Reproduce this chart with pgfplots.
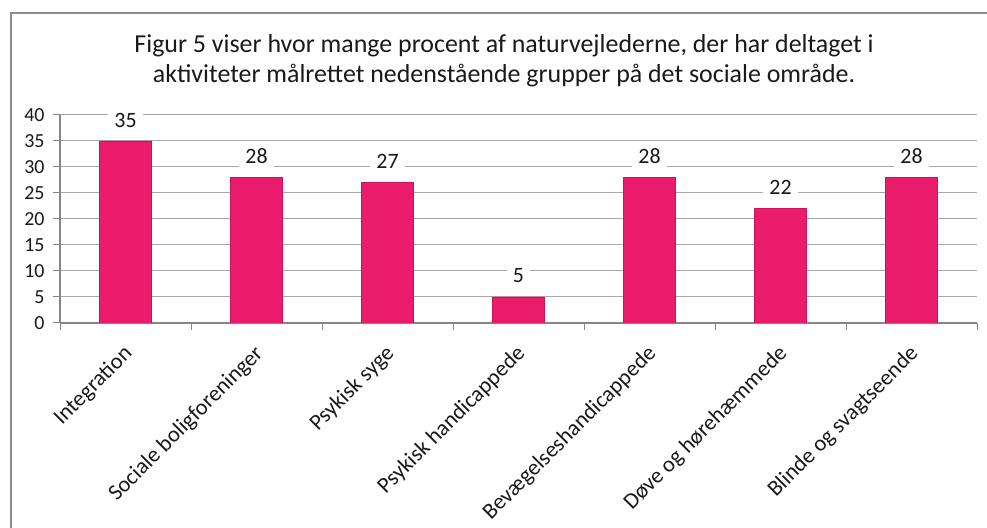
\documentclass[border=0pt]{standalone}
\usepackage{pgfplots}
\pgfplotsset{compat=1.18}
\usepackage{fontspec}
\setmainfont{Carlito}
\definecolor{barpink}{HTML}{EC1C6C}
\definecolor{baredge}{HTML}{C9145A}
\definecolor{framegray}{HTML}{8C8C8C}
\definecolor{gridgray}{HTML}{A8A8A8}
\definecolor{axisgray}{HTML}{868686}

\begin{document}
\begin{tikzpicture}[x=1bp,y=1bp]
\path[use as bounding box] (0,0) rectangle (987,528);
% outer chart frame (right and bottom edges fall outside the crop)
\draw[framegray, line width=1.5bp] (11,-20) rectangle (1010,515);
% title
\node[anchor=base, font=\fontsize{26}{30}\selectfont, text=black!90] at (504,475)
  {Figur 5 viser hvor mange procent af naturvejlederne, der har deltaget i};
\node[anchor=base, font=\fontsize{26}{30}\selectfont, text=black!90] at (504,445)
  {aktiviteter målrettet nedenstående grupper på det sociale område.};
\begin{axis}[
  at={(60bp,205bp)}, anchor=south west,
  scale only axis, width=917bp, height=208bp,
  xmin=-0.5, xmax=6.5, ymin=0, ymax=40,
  ytick={0,5,...,40},
  xtick={0,1,2,3,4,5,6},
  xticklabels={Integration, Sociale boligforeninger, Psykisk syge,
    Psykisk handicappede, Bevægelseshandicappede, Døve og hørehæmmede,
    Blinde og svagtseende},
  minor xtick={-0.5,0.5,1.5,2.5,3.5,4.5,5.5,6.5},
  major x tick style={draw=none},
  minor x tick style={draw=axisgray, line width=1bp},
  major y tick style={draw=axisgray, line width=1bp},
  tick align=outside,
  major tick length=7bp, minor tick length=7bp,
  axis x line*=bottom, axis y line*=left,
  axis line style={draw=axisgray, line width=1.2bp},
  ymajorgrids, grid style={draw=gridgray, line width=1bp},
  /pgf/number format/assume math mode=true,
  yticklabel style={font=\fontsize{20}{22}\selectfont, text=black!90, xshift=-5bp},
  xticklabel style={font=\fontsize{22.5}{26}\selectfont, text=black!90,
    rotate=45, anchor=north east, inner sep=0pt, xshift=-12bp, yshift=-7bp},
  ybar, bar width=52bp,
  nodes near coords,
  nodes near coords style={font=\fontsize{22}{26}\selectfont, text=black!90,
    fill=white, inner xsep=6bp, inner ysep=7bp, anchor=center, yshift=21bp},
]
\addplot[fill=barpink, draw=baredge, line width=0.8bp] coordinates {
  (0,35) (1,28) (2,27) (3,5) (4,28) (5,22) (6,28)
};
\end{axis}
\end{tikzpicture}
\end{document}
